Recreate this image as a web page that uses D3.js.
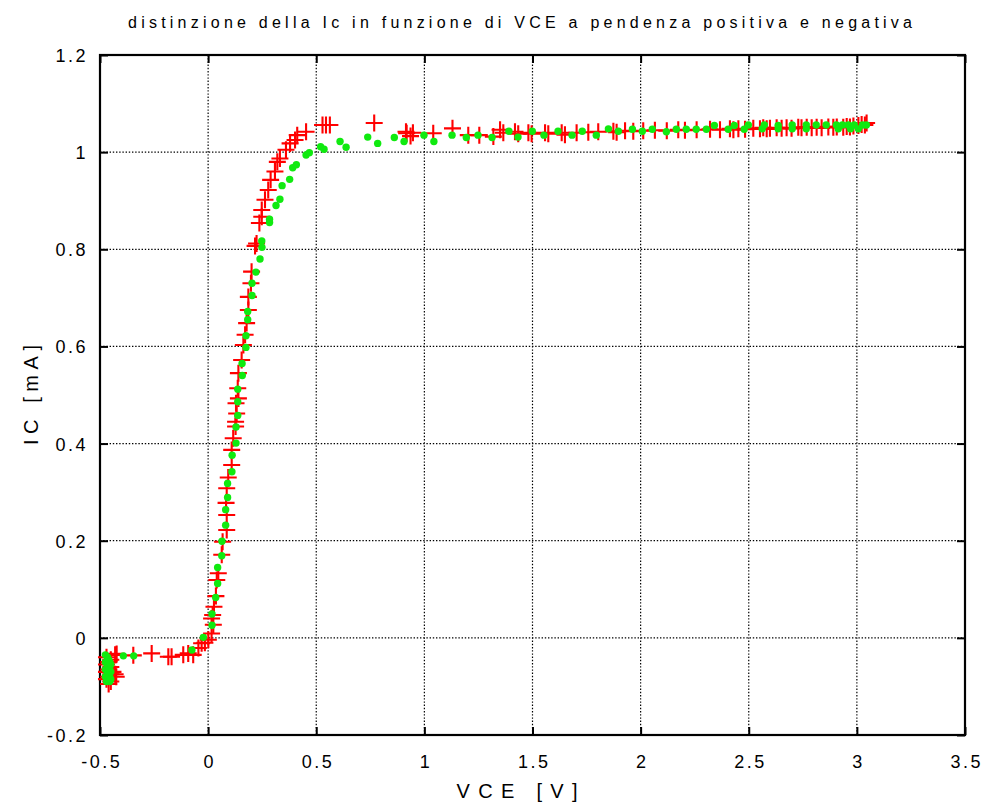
<!DOCTYPE html>
<html>
<head>
<meta charset="utf-8">
<script src="https://cdn.jsdelivr.net/npm/d3@7"></script>
<style>
  html, body { margin: 0; padding: 0; background: #fff; }
  svg { display: block; font-family: Arial, "Liberation Sans", Helvetica, sans-serif; }
</style>
</head>
<body>
<div id="chart"></div>
<script>
// Ic vs VCE, red crosses and green dots
const titleText = 'distinzione della Ic in funzione di VCE a pendenza positiva e negativa';
const xLabel = 'VCE [V]';
const yLabel = 'IC [mA]';

const xTicks = [-0.5, 0, 0.5, 1, 1.5, 2, 2.5, 3, 3.5];
const xTickLabels = ['-0.5', '0', '0.5', '1', '1.5', '2', '2.5', '3', '3.5'];
const yTicks = [-0.2, 0, 0.2, 0.4, 0.6, 0.8, 1, 1.2];
const yTickLabels = ['-0.2', '0', '0.2', '0.4', '0.6', '0.8', '1', '1.2'];

// red series (crosses)
const redVce = [
  -0.47, -0.47, -0.47, -0.47, -0.46, -0.46, -0.46, -0.46, -0.45, -0.45, -0.45, -0.45,
  -0.44, -0.43, -0.425, -0.43,
  -0.423, -0.346, -0.261, -0.184, -0.169, -0.115, -0.092, -0.069, -0.045, -0.030, -0.015, 0.001,
  0.016, 0.024, 0.016, 0.021, 0.027, 0.036, 0.040, 0.047, 0.063, 0.067, 0.086, 0.086,
  0.083, 0.086, 0.093, 0.109, 0.109, 0.116, 0.127, 0.127, 0.132, 0.129, 0.140, 0.137,
  0.140, 0.155, 0.163, 0.171, 0.178, 0.186, 0.186, 0.198, 0.201, 0.217, 0.224, 0.237,
  0.248, 0.248, 0.263, 0.278, 0.289, 0.309, 0.320, 0.332, 0.360, 0.379, 0.402, 0.412,
  0.453, 0.529, 0.545, 0.563, 0.768, 0.915, 0.918, 0.936, 0.947, 1.041, 1.130, 1.203,
  1.254, 1.319, 1.350, 1.365, 1.419, 1.434, 1.481, 1.496, 1.558, 1.573, 1.635, 1.650,
  1.704, 1.758, 1.804, 1.874, 1.889, 1.928, 1.966, 2.012, 2.066, 2.121, 2.174, 2.205,
  2.259, 2.321, 2.367, 2.413, 2.429, 2.452, 2.483, 2.521, 2.552, 2.567, 2.583, 2.598,
  2.629, 2.652, 2.675, 2.698, 2.729, 2.744, 2.768, 2.791, 2.814, 2.837, 2.868, 2.891,
  2.907, 2.937, 2.953, 2.968, 2.984, 3.007, 3.022, 3.037, 3.045
];
const redIc = [
  -0.04, -0.055, -0.07, -0.085, -0.05, -0.065, -0.08, -0.095, -0.045, -0.06, -0.075, -0.09,
  -0.07, -0.075, -0.08, -0.035,
  -0.033, -0.036, -0.032, -0.039, -0.039, -0.035, -0.032, -0.035, -0.021, -0.011, -0.010, -0.004,
  0.009, 0.027, 0.040, 0.047, 0.064, 0.086, 0.119, 0.133, 0.171, 0.198, 0.222, 0.253,
  0.278, 0.308, 0.330, 0.356, 0.387, 0.411, 0.435, 0.445, 0.462, 0.483, 0.493, 0.514,
  0.545, 0.572, 0.603, 0.624, 0.648, 0.675, 0.702, 0.730, 0.754, 0.807, 0.812, 0.854,
  0.867, 0.881, 0.902, 0.922, 0.943, 0.960, 0.980, 0.987, 1.005, 1.018, 1.025, 1.035,
  1.042, 1.056, 1.056, 1.056, 1.060, 1.042, 1.039, 1.033, 1.040, 1.039, 1.049, 1.035,
  1.035, 1.032, 1.046, 1.040, 1.042, 1.038, 1.040, 1.038, 1.040, 1.038, 1.040, 1.036,
  1.040, 1.041, 1.042, 1.043, 1.041, 1.044, 1.043, 1.044, 1.045, 1.044, 1.046, 1.045,
  1.046, 1.047, 1.046, 1.048, 1.046, 1.048, 1.047, 1.049, 1.048, 1.050, 1.048, 1.049,
  1.050, 1.049, 1.050, 1.049, 1.051, 1.050, 1.051, 1.050, 1.051, 1.050, 1.052, 1.051,
  1.052, 1.051, 1.053, 1.052, 1.054, 1.055, 1.057, 1.056, 1.060
];

// green series (dots)
const greenVce = [
  -0.475, -0.475, -0.475, -0.475, -0.47, -0.465, -0.465, -0.465, -0.465, -0.46, -0.46, -0.46,
  -0.455, -0.455, -0.455, -0.455, -0.45, -0.45, -0.45,
  -0.392, -0.344, -0.075, -0.022, 0.018, 0.018, 0.035, 0.044, 0.044, 0.063, 0.064, 0.081,
  0.081, 0.090, 0.090, 0.110, 0.111, 0.129, 0.129, 0.137, 0.137, 0.137, 0.158, 0.157,
  0.175, 0.175, 0.183, 0.183, 0.203, 0.203, 0.221, 0.240, 0.249, 0.248, 0.284, 0.284,
  0.314, 0.332, 0.342, 0.377, 0.391, 0.408, 0.453, 0.468, 0.520, 0.536, 0.610, 0.638,
  0.738, 0.784, 0.861, 0.906, 0.998, 1.044, 1.128, 1.194, 1.248, 1.313, 1.391, 1.433,
  1.499, 1.553, 1.618, 1.683, 1.730, 1.795, 1.851, 1.897, 1.962, 2.008, 2.054, 2.119,
  2.165, 2.211, 2.257, 2.304, 2.341, 2.405, 2.433, 2.479, 2.498, 2.562, 2.572, 2.636,
  2.636, 2.701, 2.701, 2.766, 2.766, 2.812, 2.858, 2.905, 2.914, 2.933, 2.960, 2.970,
  2.988, 3.007, 3.026, 3.044
];
const greenIc = [
  -0.035, -0.05, -0.065, -0.08, -0.09, -0.04, -0.055, -0.07, -0.085, -0.045, -0.06, -0.075,
  -0.05, -0.065, -0.08, -0.09, -0.055, -0.07, -0.085,
  -0.037, -0.037, -0.025, 0.001, 0.026, 0.049, 0.083, 0.112, 0.145, 0.169, 0.199, 0.232,
  0.264, 0.289, 0.318, 0.342, 0.376, 0.401, 0.434, 0.458, 0.486, 0.512, 0.540, 0.565,
  0.598, 0.622, 0.655, 0.672, 0.705, 0.730, 0.753, 0.780, 0.804, 0.817, 0.855, 0.862,
  0.890, 0.903, 0.931, 0.944, 0.968, 0.974, 0.994, 0.999, 1.011, 1.006, 1.022, 1.010,
  1.031, 1.018, 1.030, 1.022, 1.035, 1.022, 1.035, 1.030, 1.035, 1.030, 1.043, 1.031,
  1.043, 1.035, 1.043, 1.035, 1.043, 1.035, 1.048, 1.043, 1.047, 1.043, 1.047, 1.042,
  1.047, 1.047, 1.047, 1.047, 1.055, 1.047, 1.055, 1.047, 1.056, 1.048, 1.056, 1.048,
  1.055, 1.056, 1.048, 1.056, 1.048, 1.056, 1.056, 1.056, 1.048, 1.056, 1.056, 1.048,
  1.056, 1.048, 1.056, 1.056
];

const width = 983, height = 806;
const plot = { left: 100, right: 965, top: 55, bottom: 735 };

const svg = d3.select('#chart').append('svg')
  .attr('width', width)
  .attr('height', height);

const x = d3.scaleLinear().domain([-0.5, 3.5]).range([plot.left, plot.right]);
const y = d3.scaleLinear().domain([-0.2, 1.2]).range([plot.bottom, plot.top]);

// dotted grid
const grid = svg.append('g').attr('class', 'grid')
  .attr('stroke', '#000')
  .attr('stroke-width', 1.2)
  .attr('stroke-dasharray', '1.4,1.8');

grid.selectAll('line.vx')
  .data(xTicks.slice(1, -1))
  .join('line')
  .attr('class', 'vx')
  .attr('x1', d => x(d)).attr('x2', d => x(d))
  .attr('y1', plot.top).attr('y2', plot.bottom);

grid.selectAll('line.hy')
  .data(yTicks.slice(1, -1))
  .join('line')
  .attr('class', 'hy')
  .attr('x1', plot.left).attr('x2', plot.right)
  .attr('y1', d => y(d)).attr('y2', d => y(d));

// axes, ticks pointing inward
const fmtX = d => xTickLabels[xTicks.indexOf(d)];
const fmtY = d => yTickLabels[yTicks.indexOf(d)];

function styleAxis(g, showText) {
  g.select('.domain').remove();
  g.selectAll('.tick line').attr('stroke', '#000').attr('stroke-width', 2);
  g.selectAll('.tick text')
    .attr('fill', '#000')
    .style('font-size', '18px')
    .style('letter-spacing', '2.5px')
    .style('display', showText ? null : 'none');
}

svg.append('g')
  .attr('transform', `translate(0,${plot.bottom})`)
  .call(d3.axisBottom(x).tickValues(xTicks).tickFormat(fmtX).tickSize(-8).tickPadding(20))
  .call(g => styleAxis(g, true))
  .call(g => g.selectAll('.tick text').attr('dx', '1.2px'));

svg.append('g')
  .attr('transform', `translate(0,${plot.top})`)
  .call(d3.axisTop(x).tickValues(xTicks).tickSize(-8))
  .call(g => styleAxis(g, false));

svg.append('g')
  .attr('transform', `translate(${plot.left},0)`)
  .call(d3.axisLeft(y).tickValues(yTicks).tickFormat(fmtY).tickSize(-8).tickPadding(12))
  .call(g => styleAxis(g, true))
  .call(g => g.selectAll('.tick text').attr('dy', '0.36em'));

svg.append('g')
  .attr('transform', `translate(${plot.right},0)`)
  .call(d3.axisRight(y).tickValues(yTicks).tickSize(-8))
  .call(g => styleAxis(g, false));

// frame
svg.append('rect')
  .attr('x', plot.left).attr('y', plot.top)
  .attr('width', plot.right - plot.left)
  .attr('height', plot.bottom - plot.top)
  .attr('fill', 'none')
  .attr('stroke', '#000')
  .attr('stroke-width', 2.2);

// red crosses
const red = redVce.map((v, i) => ({ v, ic: redIc[i] }));
svg.append('g').attr('class', 'red')
  .selectAll('path')
  .data(red)
  .join('path')
  .attr('transform', d => `translate(${x(d.v)},${y(d.ic)})`)
  .attr('d', 'M-8.5,0H8.5M0,-8.5V8.5')
  .attr('stroke', '#ff0000')
  .attr('stroke-width', 2.1)
  .attr('fill', 'none');

// green dots
const green = greenVce.map((v, i) => ({ v, ic: greenIc[i] }));
svg.append('g').attr('class', 'green')
  .selectAll('circle')
  .data(green)
  .join('circle')
  .attr('cx', d => x(d.v))
  .attr('cy', d => y(d.ic))
  .attr('r', 3.7)
  .attr('fill', '#10ea10');

// title and axis labels
svg.append('text')
  .attr('x', 520).attr('y', 28)
  .attr('text-anchor', 'middle')
  .attr('textLength', 784)
  .attr('lengthAdjust', 'spacing')
  .style('font-size', '16px')
  .attr('fill', '#000')
  .text(titleText);

svg.append('text')
  .attr('x', 517).attr('y', 798)
  .attr('text-anchor', 'middle')
  .attr('textLength', 121)
  .attr('lengthAdjust', 'spacing')
  .style('font-size', '20px')
  .attr('fill', '#000')
  .text(xLabel);

svg.append('text')
  .attr('transform', 'translate(38,395) rotate(-90)')
  .attr('text-anchor', 'middle')
  .attr('textLength', 100)
  .attr('lengthAdjust', 'spacing')
  .style('font-size', '20px')
  .attr('fill', '#000')
  .text(yLabel);
</script>
</body>
</html>
